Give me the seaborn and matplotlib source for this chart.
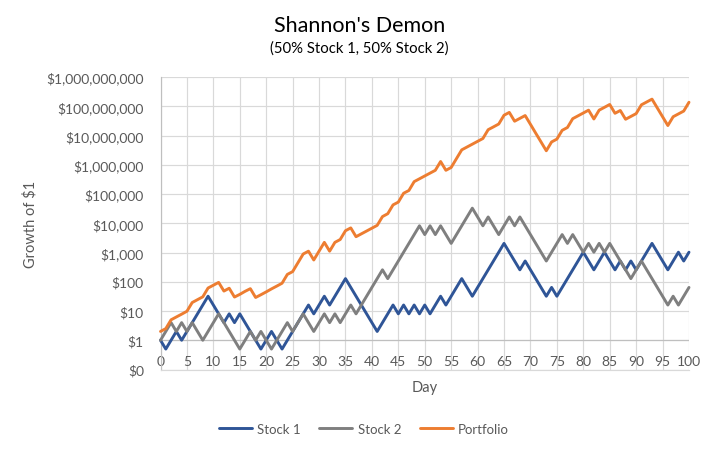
import matplotlib
matplotlib.use("Agg")
import matplotlib.pyplot as plt
import pandas as pd
import seaborn as sns

stock_1 = [1, 0.5, 1, 2, 1, 2, 4, 8, 16, 32, 16, 8, 4, 8, 4, 8, 4, 2, 1, 0.5,
           1, 2, 1, 0.5, 1, 2, 4, 8, 16, 8, 16, 32, 16, 32, 64, 128, 64, 32, 16, 8,
           4, 2, 4, 8, 16, 8, 16, 8, 16, 8, 16, 8, 16, 32, 16, 32, 64, 128, 64, 32,
           64, 128, 256, 512, 1024, 2048, 1024, 512, 256, 512, 256, 128, 64, 32, 64, 32, 64, 128, 256, 512,
           1024, 512, 256, 512, 1024, 512, 256, 512, 256, 512, 256, 512, 1024, 2048, 1024, 512, 256, 512, 1024, 512,
           1024]
stock_2 = [1, 2, 4, 2, 4, 2, 4, 2, 1, 2, 4, 8, 4, 2, 1, 0.5, 1, 2, 1, 2,
           1, 0.5, 1, 2, 4, 2, 4, 8, 4, 2, 4, 8, 4, 8, 4, 8, 16, 8, 16, 32,
           64, 128, 256, 128, 256, 512, 1024, 2048, 4096, 8192, 4096, 8192, 4096, 8192, 4096, 2048, 4096, 8192, 16384, 32768,
           16384, 8192, 16384, 8192, 4096, 8192, 16384, 8192, 16384, 8192, 4096, 2048, 1024, 512, 1024, 2048, 4096, 2048, 4096, 2048,
           1024, 2048, 1024, 2048, 1024, 2048, 1024, 512, 256, 128, 256, 512, 256, 128, 64, 32, 16, 32, 16, 32,
           64]
portfolio = [2, 2.5, 5, 6.25, 7.8, 9.8, 19.5, 24.4, 30.5, 61, 76, 95, 48, 60, 30, 37, 47, 58, 29, 36,
             45, 57, 71, 89, 178, 222, 444, 888, 1110, 555, 1110, 2220, 1110, 2220, 2780, 5550, 6940, 3470, 4340, 5420,
             6780, 8470, 16900, 21200, 42400, 52900, 106000, 132000, 265000, 331000, 414000, 517000, 646000, 1290000, 646000, 808000, 1620000, 3230000, 4040000, 5050000,
             6310000, 7890000, 15800000, 19700000, 24700000, 49300000, 61600000, 30800000, 38500000, 48100000, 24100000, 12000000, 6020000, 3010000, 6020000, 7520000, 15000000, 18800000, 37600000, 47000000,
             58800000, 73500000, 36700000, 73500000, 91800000, 115000000, 57400000, 71700000, 35900000, 44800000, 56000000, 112000000, 140000000, 175000000, 87600000, 43800000, 21900000, 43800000, 54700000, 68400000,
             137000000]
days = list(range(len(stock_1)))

y_ticks = [0.1, 1, 10, 100, 1000, 10000, 100000, 1000000, 10000000, 100000000, 1000000000]
y_labels = ["$0", "$1", "$10", "$100", "$1,000", "$10,000", "$100,000", "$1,000,000",
            "$10,000,000", "$100,000,000", "$1,000,000,000"]
x_ticks = list(range(0, 101, 5))

df = pd.DataFrame({"Day": days, "Stock 1": stock_1, "Stock 2": stock_2, "Portfolio": portfolio})
df_long = df.melt(id_vars="Day", var_name="series", value_name="growth")

sns.set_theme(style="white")
plt.rcParams["font.family"] = ["Lato", "DejaVu Sans"]
text_color = "#595959"

fig = plt.figure(figsize=(7.19, 4.52), dpi=100)
ax = fig.add_axes([160.5 / 719, 1 - 370.5 / 452, 528.5 / 719, 292.5 / 452])

sns.lineplot(data=df_long, x="Day", y="growth", hue="series", ax=ax,
             palette={"Stock 1": "#2F5597", "Stock 2": "#7F7F7F", "Portfolio": "#ED7D31"},
             linewidth=2.1, errorbar=None, estimator=None, clip_on=False, zorder=3)

ax.set_yscale("log")
ax.set_xlim(0, 100)
ax.set_ylim(0.1, 1000000000)
ax.set_yticks(y_ticks)
ax.set_yticklabels(y_labels)
ax.minorticks_off()
ax.set_xticks(x_ticks)
ax.grid(True, color="#D9D9D9", linewidth=0.85)
ax.set_axisbelow(True)
for side in ["top", "right"]:
    ax.spines[side].set_visible(False)
ax.spines["bottom"].set_color("#D9D9D9")
ax.spines["left"].set_color("#BFBFBF")
ax.spines["left"].set_linewidth(0.85)
ax.spines["bottom"].set_linewidth(0.85)
# the horizontal axis crosses at $1
ax.axhline(1, color="#BFBFBF", linewidth=0.85, zorder=1)

# the x labels sit inside the plot, just under the $1 line
ax.tick_params(axis="x", length=0, pad=-10.7, labelsize=10, labelcolor=text_color)
ax.tick_params(axis="y", length=0, pad=12, labelsize=10, labelcolor=text_color)

ax.set_xlabel("Day", fontsize=10.5, color=text_color)
ax.xaxis.set_label_coords(0.5, -0.035)
ax.set_ylabel("Growth of $1", fontsize=10.5, color=text_color)
ax.yaxis.set_label_coords(-0.232, 0.5)

fig.text(0.5, 1 - 26 / 452, "Shannon's Demon", ha="center", va="center", fontsize=15.5, color="black")
fig.text(0.5, 1 - 48.5 / 452, "(50% Stock 1, 50% Stock 2)", ha="center", va="center", fontsize=10.7, color="black")

handles, labels = ax.get_legend_handles_labels()
ax.legend(handles, labels, loc="center", bbox_to_anchor=(364 / 719, 1 - 430 / 452),
          bbox_transform=fig.transFigure, ncol=3, frameon=False, fontsize=9.5,
          labelcolor=text_color, handlelength=2.5, handletextpad=0.4, columnspacing=1.4)

fig.savefig("out.png", dpi=100)
